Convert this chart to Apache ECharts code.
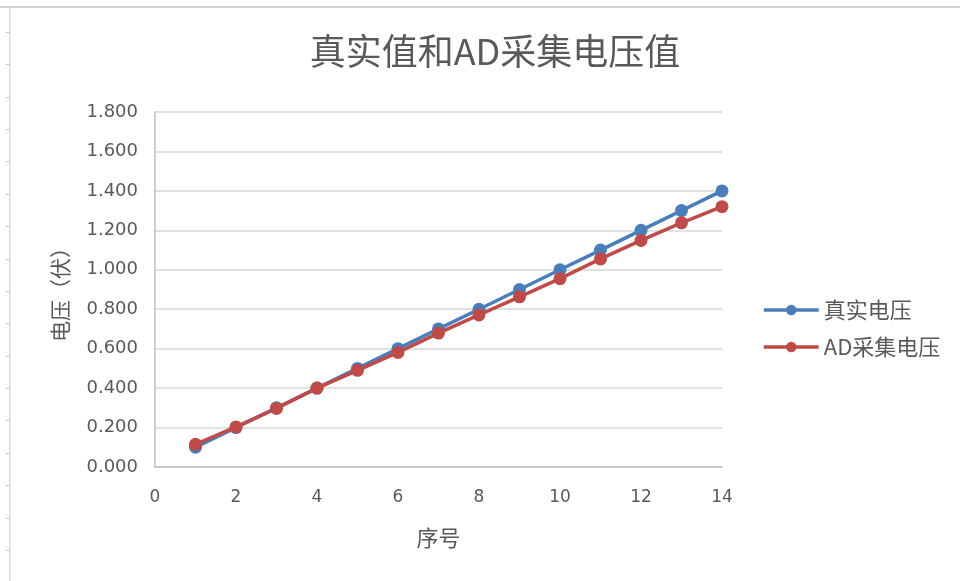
<!DOCTYPE html>
<html>
<head>
<meta charset="utf-8">
<script src="https://cdn.jsdelivr.net/npm/echarts@6/dist/echarts.min.js"></script>
<style>
  html, body { margin: 0; padding: 0; background: #ffffff; }
  #chart { width: 960px; height: 581px; }
</style>
</head>
<body>
<div id="chart"></div>
<script>
// Sample index (序号) and the two voltage series, in volts
const indices = [1, 2, 3, 4, 5, 6, 7, 8, 9, 10, 11, 12, 13, 14];
const trueVoltage = [0.1, 0.2, 0.3, 0.4, 0.5, 0.6, 0.7, 0.8, 0.9, 1.0, 1.1, 1.2, 1.3, 1.4];
const adVoltage = [0.115, 0.203, 0.297, 0.400, 0.490, 0.581, 0.679, 0.771, 0.863, 0.955, 1.055, 1.149, 1.238, 1.320];

const seriesNames = ['真实电压', 'AD采集电压'];
const titleText = '真实值和AD采集电压值';
const xAxisName = '序号';
const yAxisName = '电压（伏）';

const textColor = '#595959';
const cjkFont = '"Noto Sans CJK SC", "Microsoft YaHei", sans-serif';
const numFont = '"DejaVu Sans", sans-serif';

const pairs = (ys) => indices.map((x, i) => [x, ys[i]]);

// Frame decoration: top rule and the left ruler with small ticks
const frame = [
  { type: 'rect', shape: { x: 0, y: 6, width: 960, height: 2 }, style: { fill: '#d0d0d0' }, silent: true },
  { type: 'rect', shape: { x: 9, y: 8, width: 1.5, height: 573 }, style: { fill: '#d8d8d8' }, silent: true }
];
for (let y = 31.7; y < 581; y += 32.4) {
  frame.push({ type: 'rect', shape: { x: 6, y: Math.round(y), width: 3, height: 1 }, style: { fill: '#c8c8c8' }, silent: true });
}

const chart = echarts.init(document.getElementById('chart'), null, { renderer: 'canvas' });
chart.setOption({
  backgroundColor: '#ffffff',
  animation: false,
  title: {
    text: titleText,
    left: 490,
    top: 28,
    textAlign: 'center',
    textStyle: { fontFamily: cjkFont, fontSize: 36, fontWeight: 'normal', color: textColor }
  },
  graphic: frame,
  legend: {
    orient: 'vertical',
    left: 757,
    top: 294,
    itemWidth: 55,
    itemHeight: 13,
    itemGap: 15,
    data: seriesNames,
    lineStyle: { width: 3.5 },
    textStyle: { fontFamily: cjkFont, fontSize: 22, color: textColor, padding: [0, 0, 0, 0] }
  },
  grid: { left: 155, right: 238, top: 112, bottom: 114, containLabel: false },
  xAxis: {
    type: 'value',
    min: 0,
    max: 14,
    interval: 2,
    name: xAxisName,
    nameLocation: 'middle',
    nameGap: 60,
    nameTextStyle: { fontFamily: cjkFont, fontSize: 22, color: textColor },
    axisLine: { show: true, lineStyle: { color: '#bfbfbf', width: 1.5 } },
    axisTick: { show: false },
    axisLabel: { margin: 22, fontFamily: numFont, fontSize: 17, color: textColor },
    splitLine: { show: false }
  },
  yAxis: {
    type: 'value',
    min: 0,
    max: 1.8,
    interval: 0.2,
    name: yAxisName,
    nameLocation: 'middle',
    nameGap: 84,
    nameRotate: 90,
    nameTextStyle: { fontFamily: cjkFont, fontSize: 21, color: textColor },
    axisLine: { show: true, lineStyle: { color: '#bfbfbf', width: 1.5 } },
    axisTick: { show: false },
    axisLabel: {
      margin: 17,
      fontFamily: numFont,
      fontSize: 18,
      color: textColor,
      formatter: (v) => v.toFixed(3)
    },
    splitLine: { show: true, lineStyle: { color: '#d9d9d9', width: 1.5 } }
  },
  series: [
    {
      name: seriesNames[0],
      type: 'line',
      data: pairs(trueVoltage),
      symbol: 'circle',
      symbolSize: 13,
      lineStyle: { color: '#4a7ebb', width: 3.5 },
      itemStyle: { color: '#4a7ebb' },
      z: 2
    },
    {
      name: seriesNames[1],
      type: 'line',
      data: pairs(adVoltage),
      symbol: 'circle',
      symbolSize: 13,
      lineStyle: { color: '#be4b48', width: 3.5 },
      itemStyle: { color: '#be4b48' },
      z: 3
    }
  ]
});
</script>
</body>
</html>
